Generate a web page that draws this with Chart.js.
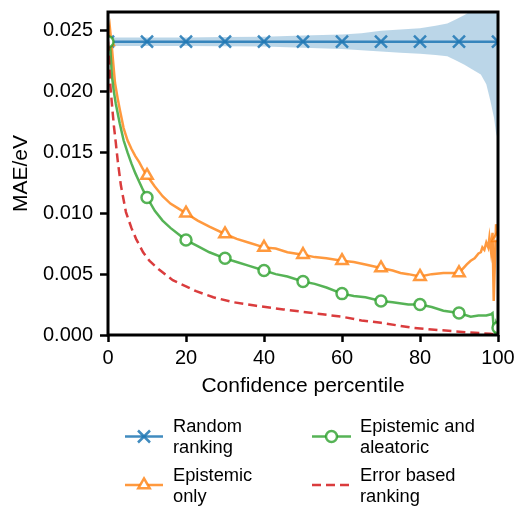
<!DOCTYPE html>
<html>
<head>
<meta charset="utf-8">
<script src="https://cdn.jsdelivr.net/npm/chart.js@4/dist/chart.umd.min.js"></script>
<style>
  html, body { margin: 0; padding: 0; background: #fff; }
  #chart { display: block; }
</style>
</head>
<body>
<canvas id="chart" width="515" height="506"></canvas>
<script>
// ========== DATA ==========

const xTicks = [0, 20, 40, 60, 80, 100];
const yTicks = [0, 0.005, 0.010, 0.015, 0.020, 0.025];
const markerPct = [0, 10, 20, 30, 40, 50, 60, 70, 80, 90, 100];

const legendLabels = [
    ['Random', 'ranking'],
    ['Epistemic', 'only'],
    ['Epistemic and', 'aleatoric'],
    ['Error based', 'ranking']
];

// random ranking (flat) + its spread band
const randomPct = [0, 10, 20, 30, 40, 50, 60, 70, 80, 90, 100];
const randomMae = [0.0241, 0.0241, 0.0241, 0.0241, 0.0241, 0.0241, 0.0241, 0.0241, 0.0241, 0.0241, 0.0241];
const bandPct   = [0, 10, 20, 30, 40, 50, 60, 65, 70, 75, 80, 84, 87, 89, 91.4, 93, 95.6, 97, 98, 99, 99.5, 100];
const bandUpper = [0.02445, 0.02445, 0.02445, 0.02448, 0.0245, 0.0246, 0.0247, 0.0248, 0.0250, 0.0251, 0.0252, 0.0254,
                   0.0256, 0.0259, 0.0263, 0.0266, 0.0270, 0.0273, 0.0276, 0.0282, 0.0285, 0.0290];
const bandLower = [0.02375, 0.02375, 0.02375, 0.02372, 0.0237, 0.0236, 0.0235, 0.0234, 0.0233, 0.0232, 0.0231, 0.0230,
                   0.0229, 0.0226, 0.0222, 0.0219, 0.0214, 0.0206, 0.0193, 0.0178, 0.0166, 0.0160];

// epistemic only
const epiPct = [0, 0.5, 1, 1.8, 2.5, 3.1, 4, 5, 6, 7, 8, 9, 10, 12, 14, 16, 18, 20, 23, 26, 30, 33, 36, 40, 43, 46, 50,
                53, 56, 60, 63, 66, 70, 73, 75, 77, 80, 83, 86, 88, 90, 92, 93, 94, 95, 95.6, 96, 96.5, 97, 97.5, 97.8,
                98.2, 98.6, 98.9, 99.2, 99.5, 100];
const epiMae = [0.0241, 0.0252, 0.0236, 0.0207, 0.0194, 0.0184, 0.0170, 0.0160, 0.0153, 0.0147, 0.0142, 0.0136, 0.0131,
                0.0122, 0.0114, 0.0108, 0.0104, 0.0100, 0.0094, 0.0089, 0.0083, 0.0079, 0.0076, 0.0072, 0.0071, 0.0068,
                0.0066, 0.0064, 0.0063, 0.0061, 0.0060, 0.0058, 0.0055, 0.0053, 0.0051, 0.0050, 0.0048, 0.0050, 0.0051,
                0.0051, 0.0051, 0.0058, 0.0061, 0.0063, 0.0067, 0.0068, 0.0072, 0.0070, 0.0076, 0.0072, 0.0080, 0.0069,
                0.0084, 0.0028, 0.0060, 0.0091, 0.0080];

// epistemic and aleatoric
const bothPct = [0, 0.5, 1, 1.5, 2, 3, 4, 5, 6, 7, 8, 9, 10, 12, 14, 16, 18, 20, 23, 26, 30, 33, 36, 40, 43, 46, 50, 53,
                 56, 60, 63, 66, 70, 73, 77, 80, 83, 86, 90, 93, 95, 97, 98.2, 98.6, 98.9, 99.2, 99.5, 100];
const bothMae = [0.0241, 0.0240, 0.0213, 0.0200, 0.0190, 0.0174, 0.0160, 0.0150, 0.0141, 0.0133, 0.0126, 0.0119, 0.0113,
                 0.0102, 0.0094, 0.0088, 0.0083, 0.0078, 0.0073, 0.0068, 0.0063, 0.0060, 0.0057, 0.0053, 0.0050, 0.0048,
                 0.0044, 0.0042, 0.0039, 0.0034, 0.0032, 0.0031, 0.0028, 0.0027, 0.0025, 0.0025, 0.0023, 0.0020, 0.0018,
                 0.0015, 0.0016, 0.0016, 0.0017, 0.0018, 0.0006, 0.0003, 0.0010, 0.0006];

// error based ranking (oracle)
const errPct = [0, 0.3, 0.6, 1, 1.5, 2, 2.5, 3.3, 4.6, 6, 7.2, 9, 10.6, 13, 16.6, 20, 22.6, 27, 32, 38, 45, 50, 55, 60,
                65, 70, 78, 85, 93, 98, 100];
const errMae = [0.0241, 0.0225, 0.0205, 0.0190, 0.0172, 0.0158, 0.0143, 0.0123, 0.0101, 0.0088, 0.0079, 0.0068, 0.0061,
                0.0054, 0.0045, 0.0040, 0.0036, 0.0031, 0.0027, 0.0024, 0.0021, 0.0019, 0.0017, 0.0015, 0.0012, 0.0010,
                0.0006, 0.0004, 0.0002, 0.0001, 0.0];

// ========== CHART ==========

const COLORS = {
    blue: 'rgba(31,119,180,0.85)', orange: 'rgba(255,127,14,0.8)', green: 'rgba(44,160,44,0.8)',
    red: 'rgba(214,39,40,0.9)', band: 'rgba(31,119,180,0.3)'
};
const FONT = "'Liberation Sans', Arial, Helvetica, sans-serif";

const toPoints = (xs, ys) => xs.map((x, i) => ({ x: x, y: ys[i] }));
const markerRadius = r => (ctx) => (ctx.raw && markerPct.includes(ctx.raw.x)) ? r : 0;

// scales should not push the plot area around - the layout padding decides
function noScalePadding(s) {
    s.paddingTop = 0; s.paddingBottom = 0; s.paddingLeft = 0; s.paddingRight = 0;
}

Chart.defaults.font.family = FONT;
Chart.defaults.color = '#000';

const framePlugin = {
    id: 'frameAndLegend',
    afterDraw(chart) {
        const { ctx, chartArea: a } = chart;
        ctx.save();
        ctx.strokeStyle = '#000';
        ctx.lineWidth = 3;
        ctx.strokeRect(a.left, a.top, a.right - a.left, a.bottom - a.top);

        // legend, two columns x two rows
        const cols = [{ x1: 125, x2: 163, tx: 173 }, { x1: 312, x2: 351, tx: 360 }];
        const rows = [{ ly: 436.5, b1: 432, b2: 452.5 }, { ly: 485, b1: 481, b2: 501.5 }];
        const items = [
            { col: 0, row: 0, color: COLORS.blue, marker: 'x' },
            { col: 0, row: 1, color: COLORS.orange, marker: 'tri' },
            { col: 1, row: 0, color: COLORS.green, marker: 'circle' },
            { col: 1, row: 1, color: COLORS.red, marker: 'dash' }
        ];
        items.forEach((it, i) => {
            const c = cols[it.col], r = rows[it.row];
            const cx = (c.x1 + c.x2) / 2;
            ctx.strokeStyle = it.color;
            ctx.lineWidth = 2.5;
            ctx.setLineDash(it.marker === 'dash' ? [9, 5] : []);
            ctx.beginPath();
            ctx.moveTo(c.x1, r.ly);
            ctx.lineTo(c.x2, r.ly);
            ctx.stroke();
            ctx.setLineDash([]);
            ctx.fillStyle = '#fff';
            if (it.marker === 'x') {
                const d = 6;
                ctx.beginPath();
                ctx.moveTo(cx - d, r.ly - d); ctx.lineTo(cx + d, r.ly + d);
                ctx.moveTo(cx + d, r.ly - d); ctx.lineTo(cx - d, r.ly + d);
                ctx.stroke();
            } else if (it.marker === 'tri') {
                const rr = 6.6;
                ctx.beginPath();
                ctx.moveTo(cx, r.ly - rr);
                ctx.lineTo(cx + rr * Math.sin(Math.PI / 3), r.ly + rr / 2);
                ctx.lineTo(cx - rr * Math.sin(Math.PI / 3), r.ly + rr / 2);
                ctx.closePath();
                ctx.fill(); ctx.stroke();
            } else if (it.marker === 'circle') {
                ctx.beginPath();
                ctx.arc(cx, r.ly, 5.5, 0, Math.PI * 2);
                ctx.fill(); ctx.stroke();
            }
            ctx.fillStyle = '#000';
            ctx.font = '18.3px ' + FONT;
            ctx.textAlign = 'left';
            ctx.textBaseline = 'alphabetic';
            ctx.fillText(legendLabels[i][0], c.tx, r.b1);
            ctx.fillText(legendLabels[i][1], c.tx, r.b2);
        });
        ctx.restore();
    }
};

const lineDefaults = { tension: 0, borderWidth: 2.5, clip: 0, pointBackgroundColor: '#fff', pointBorderWidth: 2.5, pointHoverRadius: 0 };

new Chart(document.getElementById('chart'), {
    type: 'line',
    data: {
        datasets: [
            { ...lineDefaults, data: toPoints(bandPct, bandUpper), borderWidth: 0, pointRadius: 0,
              backgroundColor: COLORS.band, fill: '+1', order: 10 },
            { ...lineDefaults, data: toPoints(bandPct, bandLower), borderWidth: 0, pointRadius: 0, fill: false, order: 9 },
            { ...lineDefaults, data: toPoints(randomPct, randomMae), borderColor: COLORS.blue, borderWidth: 2.5,
              pointStyle: 'crossRot', pointRadius: markerRadius(8.5), pointBorderColor: COLORS.blue, fill: false, order: 5 },
            { ...lineDefaults, data: toPoints(epiPct, epiMae), borderColor: COLORS.orange,
              pointStyle: 'triangle', pointRadius: markerRadius(6.6), pointBorderColor: COLORS.orange, fill: false, order: 4 },
            { ...lineDefaults, data: toPoints(bothPct, bothMae), borderColor: COLORS.green,
              pointStyle: 'circle', pointRadius: markerRadius(5.5), pointBorderColor: COLORS.green, fill: false, order: 3 },
            { ...lineDefaults, data: toPoints(errPct, errMae), borderColor: COLORS.red, borderDash: [9, 5],
              pointRadius: 0, fill: false, order: 2 }
        ]
    },
    options: {
        responsive: false,
        animation: false,
        devicePixelRatio: 1,
        layout: { padding: { left: 0, top: 12, right: 17, bottom: 106 } },
        plugins: { legend: { display: false }, tooltip: { enabled: false } },
        scales: {
            x: {
                type: 'linear', min: 0, max: 100,
                afterBuildTicks: (s) => { s.ticks = xTicks.map(v => ({ value: v })); },
                afterFit: (s) => { s.height = 65; noScalePadding(s); },
                grid: { drawOnChartArea: false, drawTicks: true, tickLength: 7, tickWidth: 2.5, tickColor: '#000' },
                border: { display: false },
                ticks: { padding: 4, font: { size: 20 }, color: '#000', maxRotation: 0, callback: v => String(v) },
                title: { display: true, text: 'Confidence percentile', font: { size: 21 }, color: '#000', padding: { top: 0, bottom: 1 } }
            },
            y: {
                type: 'linear', min: 0, max: 0.02654,
                afterBuildTicks: (s) => { s.ticks = yTicks.map(v => ({ value: v })); },
                afterFit: (s) => { s.width = 108; noScalePadding(s); },
                grid: { drawOnChartArea: false, drawTicks: true, tickLength: 8, tickWidth: 2.5, tickColor: '#000' },
                border: { display: false },
                ticks: { padding: 7, font: { size: 20 }, color: '#000', callback: v => v.toFixed(3) },
                title: { display: true, text: 'MAE/eV', font: { size: 21 }, color: '#000', padding: { top: 9, bottom: 0 } }
            }
        }
    },
    plugins: [framePlugin]
});
</script>
</body>
</html>
